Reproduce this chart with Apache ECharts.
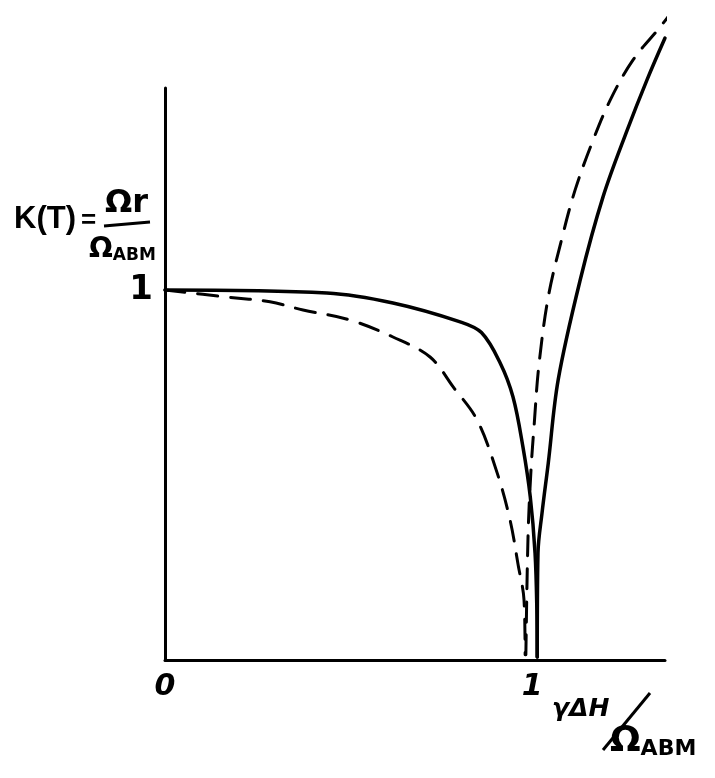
<!DOCTYPE html>
<html>
<head>
    <meta charset="utf-8">
    <title>K(T) sketch</title>
    <script src="https://cdn.jsdelivr.net/npm/echarts@6/dist/echarts.min.js"></script>
    <style>
        html, body { margin: 0; padding: 0; background: #fff; }
    </style>
</head>
<body>
    <div id="main" style="width: 715px;height:778px;"></div>

    <script>
        // solid curve, left branch (falls to zero just past x = 1)
        var solidLeft = [
            [0, 1.0], [0.441, 0.992], [0.621, 0.965], [0.804, 0.914], [0.862, 0.885],
            [0.913, 0.803], [0.948, 0.711], [0.975, 0.576], [0.995, 0.441],
            [1.008, 0.289], [1.013, 0.135], [1.014, 0.008]
        ];
        // solid curve, right branch (rises again)
        var solidRight = [
            [1.014, 0.008], [1.016, 0.289], [1.027, 0.397], [1.044, 0.532],
            [1.071, 0.757], [1.131, 1.027], [1.193, 1.251], [1.259, 1.432],
            [1.313, 1.568], [1.362, 1.681]
        ];
        // dashed curve, left branch
        var dashLeft = [
            [0, 1.0], [0.169, 0.981], [0.286, 0.968], [0.376, 0.946], [0.504, 0.919],
            [0.621, 0.873], [0.722, 0.819], [0.785, 0.738], [0.85, 0.649],
            [0.905, 0.505], [0.94, 0.378], [0.962, 0.257], [0.978, 0.162], [0.981, 0.014]
        ];
        // dashed curve, right branch
        var dashRight = [
            [0.983, 0.014], [0.989, 0.338], [0.997, 0.514], [1.006, 0.641],
            [1.018, 0.792], [1.044, 0.981], [1.082, 1.143], [1.117, 1.27],
            [1.163, 1.397], [1.213, 1.514], [1.275, 1.622], [1.349, 1.711], [1.384, 1.757]
        ];
        // tick labels shown on the axes
        var xTicks = { 0: '0', 1: '1' };
        var yTicks = { 1: '1' };

        var hand = 'DejaVu Sans';

        var myChart = echarts.init(document.getElementById('main'));

        function curve(data, dashed) {
            return {
                type: 'line',
                data: data,
                smooth: 0.35,
                symbol: 'none',
                clip: false,
                lineStyle: {
                    color: '#000',
                    width: dashed ? 3 : 3.5,
                    type: dashed ? [20, 13] : 'solid',
                    cap: 'round'
                }
            }
        }

        // Ω with a small ABM subscript
        function omegaAbm(left, top, big, small, pad) {
            return {
                type: 'text', left: left, top: top,
                style: {
                    text: '{o|Ω}{s|ABM}',
                    rich: {
                        o: { fontFamily: hand, fontSize: big, fontWeight: 'bold', fill: '#000' },
                        s: { fontFamily: hand, fontSize: small, fontWeight: 'bold', fill: '#000', padding: [pad, 0, 0, 0] }
                    }
                }
            }
        }

        option = {
            backgroundColor: '#fff',
            animation: false,
            grid: {
                left: 165,
                right: 50,
                top: 88,
                bottom: 118,
                containLabel: false,
                outerBoundsMode: 'none'
            },
            xAxis: {
                type: 'value',
                min: 0,
                max: 1.362,
                interval: 1,
                splitLine: { show: false },
                axisTick: { show: false },
                axisLine: { lineStyle: { color: '#000', width: 3 } },
                axisLabel: {
                    showMaxLabel: false,
                    margin: 12,
                    color: '#000',
                    fontFamily: hand,
                    fontSize: 30,
                    fontStyle: 'italic',
                    fontWeight: 'bold',
                    formatter: function (v) { return xTicks[v] || ''; }
                }
            },
            yAxis: {
                type: 'value',
                min: 0,
                max: 1.546,
                interval: 1,
                splitLine: { show: false },
                axisTick: { show: false },
                axisLine: { lineStyle: { color: '#000', width: 3 } },
                axisLabel: {
                    showMaxLabel: false,
                    margin: 12,
                    color: '#000',
                    fontFamily: hand,
                    fontSize: 34,
                    fontWeight: 'bold',
                    formatter: function (v) { return yTicks[v] || ''; }
                }
            },
            graphic: [
                // K(T) = Ωr / Ω_ABM
                { type: 'text', left: 14, top: 204,
                  style: { text: 'K(T)', fill: '#000', font: 'bold 31px "Liberation Sans"' } },
                { type: 'text', left: 81, top: 208,
                  style: { text: '=', fill: '#000', font: 'bold 26px "Liberation Sans"' } },
                { type: 'text', left: 105, top: 188,
                  style: { text: 'Ωr', fill: '#000', font: 'bold 32px "DejaVu Sans"' } },
                { type: 'line', shape: { x1: 104, y1: 226, x2: 150, y2: 222 },
                  style: { stroke: '#000', lineWidth: 3 } },
                omegaAbm(89, 236, 28, 17, 12),
                // γΔH / Ω_ABM
                { type: 'text', left: 552, top: 697,
                  style: { text: 'γΔH', fill: '#000', font: 'bold italic 25px "DejaVu Sans"' } },
                { type: 'line', shape: { x1: 650, y1: 693, x2: 603, y2: 750 },
                  style: { stroke: '#000', lineWidth: 3 } },
                omegaAbm(610, 724, 36, 22, 15)
            ],
            series: [
                curve(solidLeft, false),
                curve(solidRight, false),
                curve(dashLeft, true),
                curve(dashRight, true)
            ]
        }

        myChart.setOption(option);
    </script>
</body>
</html>
